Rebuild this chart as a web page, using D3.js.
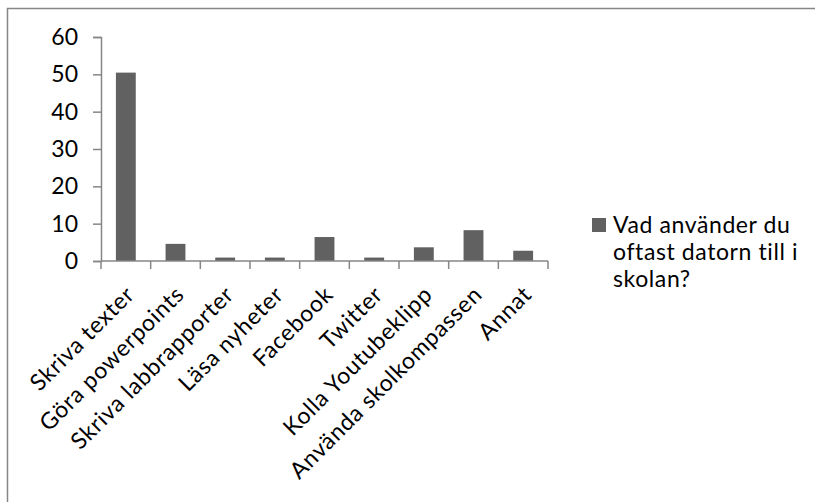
<!DOCTYPE html>
<meta charset="utf-8">
<style>
html, body { margin: 0; background: #fff; overflow: hidden; }
svg { display: block; }
text { font-family: Lato, "Noto Sans", sans-serif; fill: #000; }
</style>
<body>
<script src="https://cdn.jsdelivr.net/npm/d3@7"></script>
<script>
// data
var categories = ["Skriva texter", "Göra powerpoints", "Skriva labbrapporter", "Läsa nyheter",
  "Facebook", "Twitter", "Kolla Youtubeklipp", "Använda skolkompassen", "Annat"];
var values = [50.46, 4.59, 0.92, 0.92, 6.42, 0.92, 3.67, 8.26, 2.75];
var yTicks = [0, 10, 20, 30, 40, 50, 60];
var legendLines = ["Vad använder du", "oftast datorn till i", "skolan?"];

var W = 815, H = 502;
var plot = { left: 101, right: 548, top: 37, bottom: 261 };
var axisColor = "#868686", barColor = "#616161";
var fontSize = 23;

var svg = d3.select("body").append("svg")
  .attr("width", W)
  .attr("height", H);

// chart area border, only left and top edges are inside the picture
svg.append("path")
  .attr("d", "M7.5," + (H + 10) + "V8.5H" + (W + 10))
  .attr("fill", "none")
  .attr("stroke", axisColor)
  .attr("stroke-width", 1.5);

var x = d3.scaleBand()
  .domain(categories)
  .range([plot.left, plot.right])
  .paddingInner(0.6)
  .paddingOuter(0.3);

var y = d3.scaleLinear()
  .domain([0, 60])
  .range([plot.bottom, plot.top]);

// y axis
var yAxis = d3.axisLeft(y)
  .tickValues(yTicks)
  .tickSize(8)
  .tickPadding(15);

var gy = svg.append("g")
  .attr("transform", "translate(" + plot.left + ",0)")
  .call(yAxis);
gy.select(".domain").attr("stroke", axisColor).attr("stroke-width", 1.5);
gy.selectAll(".tick line").attr("stroke", axisColor).attr("stroke-width", 1.5);
gy.selectAll(".tick text")
  .style("font-size", fontSize + "px")
  .attr("fill", "#000");

// bars
svg.selectAll(".bar")
  .data(values)
  .enter().append("rect")
  .attr("class", "bar")
  .attr("x", function(d, i) { return x(categories[i]); })
  .attr("y", function(d) { return y(d); })
  .attr("width", x.bandwidth())
  .attr("height", function(d) { return y(0) - y(d); })
  .attr("fill", barColor);

// x axis line and boundary ticks
var half = x.step() * x.paddingInner() / 2;
var bounds = categories.map(function(c) { return x(c) - half; });
bounds.push(x(categories[categories.length - 1]) + x.bandwidth() + half);

svg.append("line")
  .attr("x1", plot.left).attr("x2", bounds[bounds.length - 1])
  .attr("y1", y(0)).attr("y2", y(0))
  .attr("stroke", axisColor).attr("stroke-width", 1.5);

svg.selectAll(".xtick")
  .data(bounds)
  .enter().append("line")
  .attr("class", "xtick")
  .attr("x1", function(d) { return d; }).attr("x2", function(d) { return d; })
  .attr("y1", y(0)).attr("y2", y(0) + 8)
  .attr("stroke", axisColor).attr("stroke-width", 1.5);

// rotated category labels
svg.selectAll(".xlabel")
  .data(categories)
  .enter().append("text")
  .attr("class", "xlabel")
  .attr("text-anchor", "end")
  .style("font-size", fontSize + "px")
  .style("letter-spacing", "0.7px")
  .attr("transform", function(d) {
    var cx = x(d) + x.bandwidth() / 2 + 10;
    return "translate(" + cx + "," + (y(0) + 35) + ") rotate(-45)";
  })
  .text(function(d) { return d; });

// legend
var legend = svg.append("g").attr("transform", "translate(592,218)");
legend.append("rect")
  .attr("width", 14).attr("height", 14)
  .attr("fill", barColor);
legend.append("text")
  .style("font-size", fontSize + "px")
  .style("letter-spacing", "0.6px")
  .selectAll("tspan")
  .data(legendLines)
  .enter().append("tspan")
  .attr("x", 21)
  .attr("y", function(d, i) { return 15 + i * 27; })
  .text(function(d) { return d; });
</script>
</body>
